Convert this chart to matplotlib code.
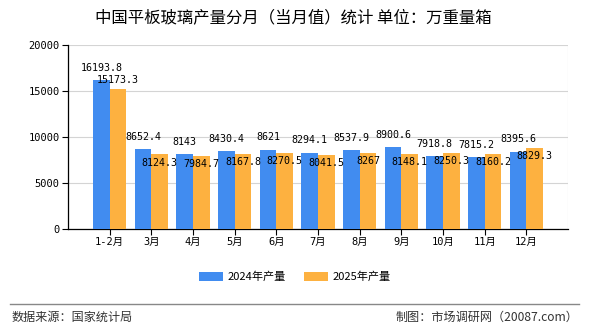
import matplotlib
matplotlib.use('Agg')
import matplotlib.pyplot as plt
import numpy as np

months = ['1-2月', '3月', '4月', '5月', '6月', '7月', '8月', '9月', '10月', '11月', '12月']
prod_2024 = [16193.8, 8652.4, 8143, 8430.4, 8621, 8294.1, 8537.9, 8900.6, 7918.8, 7815.2, 8395.6]
prod_2025 = [15173.3, 8124.3, 7984.7, 8167.8, 8270.5, 8041.5, 8267, 8148.1, 8250.3, 8160.2, 8829.3]
label_2024 = ['16193.8', '8652.4', '8143', '8430.4', '8621', '8294.1', '8537.9', '8900.6', '7918.8', '7815.2', '8395.6']
label_2025 = ['15173.3', '8124.3', '7984.7', '8167.8', '8270.5', '8041.5', '8267', '8148.1', '8250.3', '8160.2', '8829.3']

cjk = ['Noto Sans CJK SC', 'DejaVu Sans']
mono = ['DejaVu Sans Mono', 'Noto Sans CJK SC']
plt.rcParams['font.family'] = cjk

blue = '#418cf0'
orange = '#fdb140'

fig = plt.figure(figsize=(5.9, 3.3), dpi=100)
ax = fig.add_axes([68 / 590, 1 - 229 / 330, 500 / 590, 184 / 330])

x = np.arange(1, len(months) + 1)
w = 0.4
ax.bar(x - w / 2, prod_2024, w, color=blue, label='2024年产量', zorder=3)
ax.bar(x + w / 2, prod_2025, w, color=orange, label='2025年产量', zorder=3)

# value labels, 2025 pushed into the bar when it would collide with 2024's
for i in range(len(months)):
    ax.annotate(label_2024[i], (x[i] - w / 2, prod_2024[i]), xytext=(0, 9),
                textcoords='offset points', ha='center', va='center',
                fontsize=7.2, family=mono, zorder=5)
    off = 7 if abs(prod_2024[i] - prod_2025[i]) > 800 else -6
    ax.annotate(label_2025[i], (x[i] + w / 2, prod_2025[i]), xytext=(0, off),
                textcoords='offset points', ha='center', va='center',
                fontsize=7.2, family=mono, zorder=5)

ax.set_xlim(0, 12)
ax.set_ylim(0, 20000)
ax.set_yticks([0, 5000, 10000, 15000, 20000])
ax.set_xticks(x)
ax.set_xticklabels(months, family=mono, fontsize=7.5)
for t in ax.get_yticklabels():
    t.set_family(mono)
    t.set_fontsize(7.5)
ax.set_xticks(np.arange(0, 13), minor=True)
ax.grid(True, which='minor', axis='x', color='#d4d4d4', lw=0.8, zorder=0)
ax.grid(True, which='major', axis='y', color='#d4d4d4', lw=0.8, zorder=0)
ax.tick_params(axis='x', which='minor', length=0)
ax.tick_params(axis='both', which='major', length=4, width=0.8, colors='black', pad=2)
for s in ['top', 'right']:
    ax.spines[s].set_visible(False)
ax.spines['left'].set_linewidth(0.9)
ax.spines['bottom'].set_linewidth(0.9)

fig.text(0.497, 1 - 18 / 330, '中国平板玻璃产量分月（当月值）统计 单位：万重量箱',
         ha='center', va='center', fontsize=11.8)

fig.legend(loc='center', bbox_to_anchor=(0.5, 1 - 277 / 330), ncol=2, frameon=False,
           fontsize=8, handlelength=2.2, handleheight=0.8, columnspacing=1.6, handletextpad=0.4)

fig.add_artist(plt.Line2D([10 / 590, 579 / 590], [1 - 304 / 330] * 2, color='#888888', lw=1))
fig.text(12 / 590, 1 - 317 / 330, '数据来源：国家统计局', ha='left', va='center',
         fontsize=8.7, color='#333333')
fig.text(578 / 590, 1 - 317 / 330, '制图：市场调研网（20087.com）', ha='right', va='center',
         fontsize=8.7, color='#333333')

fig.savefig('out.png', dpi=100)
